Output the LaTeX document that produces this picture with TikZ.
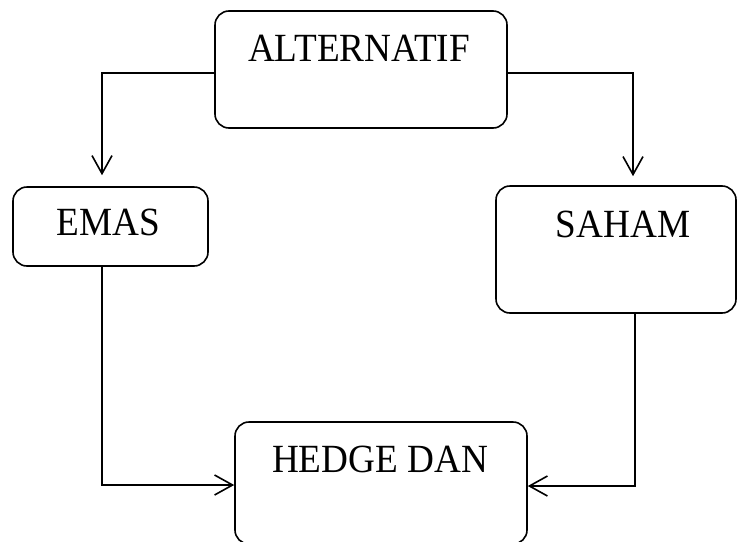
\documentclass[tikz,border=0pt]{standalone}
\usepackage{fontspec}
\setmainfont{Liberation Serif}
\usetikzlibrary{arrows.meta}
\begin{document}
\begin{tikzpicture}[x=1pt,y=-1pt,
  box/.style={draw,line width=1.6pt,rounded corners=14pt,minimum width=#1,inner sep=0pt},
  lbl/.style={anchor=base,inner sep=0pt,font=\fontsize{40}{40}\selectfont},
  conn/.style={line width=1.6pt,-{Straight Barb[length=18pt,width=20pt,line width=1.6pt]}}]
\useasboundingbox (0,0) rectangle (738,541);
\clip (0,0) rectangle (738,541);
\node[box=292pt,minimum height=117pt] (alt) at (361,69.5) {};
\node[box=195pt,minimum height=79pt] (emas) at (110.5,226.5) {};
\node[box=240pt,minimum height=127pt] (saham) at (616,249.5) {};
\node[box=292pt,minimum height=122pt] (hedge) at (381,483) {};
\node[lbl] (talt) at (359,61) {\scalebox{0.93}[1]{ALTERNATIF}};
\node[lbl] (temas) at (108.5,235) {\scalebox{0.93}[1]{EMAS}};
\node[lbl] (tsaham) at (623,237) {\scalebox{0.93}[1]{SAHAM}};
\node[lbl] (thedge) at (380,472) {\scalebox{0.93}[1]{HEDGE DAN}};
\draw[conn] ([yshift=-3.5pt]alt.west) -| ([xshift=-8.5pt,yshift=11pt]emas.north);
\draw[conn] ([yshift=-3.5pt]alt.east) -| ([xshift=17pt,yshift=9pt]saham.north);
\draw[conn] ([xshift=-8.5pt]emas.south) |- ([yshift=-2pt]hedge.west);
\draw[conn] ([xshift=19pt]saham.south) |- ([yshift=-3pt]hedge.east);
\end{tikzpicture}
\end{document}
